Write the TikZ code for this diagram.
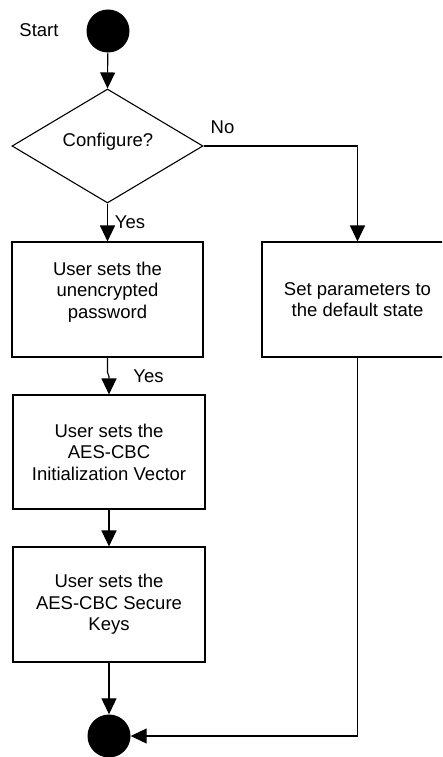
\documentclass[tikz,border=0pt]{standalone}
\usepackage{fontspec}
\setmainfont{Liberation Sans}
\usetikzlibrary{arrows.meta,shapes.geometric}
\begin{document}
\begin{tikzpicture}[x=1pt,y=-1pt,
  every node/.style={font=\fontsize{18.5}{21.5}\selectfont},
  flow/.style={line width=1.1pt,-{Triangle[length=16pt,width=15pt]}},
  stepbox/.style={draw,line width=1.1pt,minimum width=191pt,minimum height=115pt,inner sep=0pt,align=center},
  txt/.style={align=center,inner sep=0pt},
  dot/.style={circle,fill=black,minimum size=43pt,inner sep=0pt}]
\useasboundingbox (0,0) rectangle (442,757);
\clip (0,0) rectangle (442,757);

% start and end states
\node[dot] (start) at (108,31) {};
\node (starttxt) at (39,30.5) {Start};
\node[dot] (end) at (109,736) {};

% decision
\node[draw,line width=1.1pt,diamond,minimum width=191pt,minimum height=114pt,inner sep=0pt] (dec) at (107.5,146) {};
\node[txt] (dectxt) at (108,142) {Configure?};

% process boxes
\node[stepbox] (b1) at (107.5,299.5) {};
\node[txt] (b1txt) at (107.5,292) {User sets the\\unencrypted\\password};
\node[stepbox] (b2) at (357.5,299.5) {Set parameters to\\the default state};
\node[stepbox,minimum width=192pt,minimum height=114pt] (b3) at (109,452) {User sets the\\AES-CBC\\Initialization Vector};
\node[stepbox,minimum width=192pt] (b4) at (109,604.5) {User sets the\\AES-CBC Secure\\Keys};

% labels on branches
\node[txt] (no) at (222.5,127) {No};
\node[txt] (yes1) at (130,222.5) {Yes};
\node[txt] (yes2) at (148.5,376) {Yes};

% connectors
\draw[flow] (start) -- (dec.north);
\draw[flow] (dec.south) -- (b1.north);
\draw[flow] (dec.east) -| (b2.north);
\draw[flow] (b1.south) -- ++(0,15) -- ([yshift=18pt]b3.north) -- (b3.north);
\draw[flow] (b3.south) -- (b4.north);
\draw[flow] (b4.south) -- (end.north);
\draw[flow] (b2.south) |- (end.east);
\end{tikzpicture}
\end{document}
